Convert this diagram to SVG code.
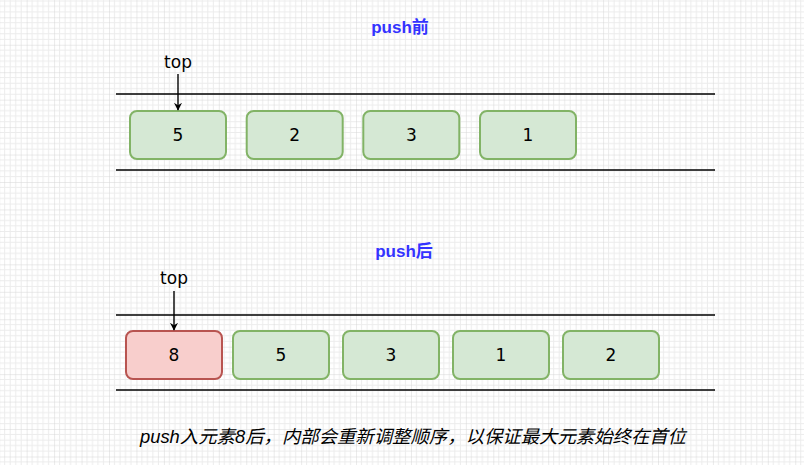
<svg xmlns="http://www.w3.org/2000/svg" width="804" height="465" viewBox="0 0 804 465">
<style>
.green{fill:#d5e8d4;stroke:#82b366;stroke-width:2}
.red{fill:#f8cecc;stroke:#b85450;stroke-width:2}
.num{font-family:"Comic Sans MS","DejaVu Sans","Liberation Sans",sans-serif;font-size:17px;fill:#000;text-anchor:middle;dominant-baseline:central}
.title{font-family:"Liberation Sans","Noto Sans CJK SC",sans-serif;font-size:17px;font-weight:bold;fill:#3333ff;text-anchor:middle;dominant-baseline:central}
.rail{stroke:#000;stroke-width:1.6;fill:none}
.conn{stroke:#000;stroke-width:1.4;fill:none}
</style>
<defs>
<pattern id="grid" patternUnits="userSpaceOnUse" x="26.65" y="17.3" width="27.45" height="27.45">
<path d="M5.49 0V27.45M10.98 0V27.45M16.47 0V27.45M21.96 0V27.45M0 5.49H27.45M0 10.98H27.45M0 16.47H27.45M0 21.96H27.45" stroke="#ececec" stroke-width="1" fill="none"/>
<path d="M0 0V27.45M0 0H27.45" stroke="#d6d6d6" stroke-width="1" fill="none"/>
</pattern>
<marker id="arr" viewBox="0 0 10 10" refX="9" refY="5" markerWidth="8" markerHeight="8" orient="auto" markerUnits="userSpaceOnUse">
<path d="M0 0L10 5L0 10L3 5Z" fill="#000"/>
</marker>
</defs>
<rect width="804" height="465" fill="#fff"/>
<rect width="804" height="465" fill="url(#grid)"/>

<g id="rails">
<line class="rail" x1="116" y1="94" x2="715" y2="94"/>
<line class="rail" x1="116" y1="170" x2="715" y2="170"/>
<line class="rail" x1="116" y1="315" x2="715" y2="315"/>
<line class="rail" x1="116" y1="390" x2="715" y2="390"/>
</g>

<text id="title1" class="title" x="400" y="27">push前</text>
<text id="title2" class="title" x="404" y="251">push后</text>

<g id="top1"><text class="num" x="178" y="62">top</text></g>
<g id="top2"><text class="num" x="174" y="278">top</text></g>

<g id="r1n5"><rect class="green" x="130" y="111" width="96" height="48" rx="7"/><text class="num" x="178" y="135">5</text></g>
<g id="r1n2"><rect class="green" x="246.7" y="111" width="96" height="48" rx="7"/><text class="num" x="294.7" y="135">2</text></g>
<g id="r1n3"><rect class="green" x="363.3" y="111" width="96" height="48" rx="7"/><text class="num" x="411.3" y="135">3</text></g>
<g id="r1n1"><rect class="green" x="480" y="111" width="96" height="48" rx="7"/><text class="num" x="528" y="135">1</text></g>

<g id="r2n8"><rect class="red" x="126" y="331" width="96" height="48" rx="7"/><text class="num" x="174" y="355">8</text></g>
<g id="r2n5"><rect class="green" x="233" y="331" width="96" height="48" rx="7"/><text class="num" x="281" y="355">5</text></g>
<g id="r2n3"><rect class="green" x="343" y="331" width="96" height="48" rx="7"/><text class="num" x="391" y="355">3</text></g>
<g id="r2n1"><rect class="green" x="453" y="331" width="96" height="48" rx="7"/><text class="num" x="501" y="355">1</text></g>
<g id="r2n2"><rect class="green" x="563" y="331" width="96" height="48" rx="7"/><text class="num" x="611" y="355">2</text></g>

<g id="connectors">
<line class="conn" x1="178" y1="74" x2="178" y2="110" marker-end="url(#arr)"/>
<line class="conn" x1="174" y1="291" x2="174" y2="330" marker-end="url(#arr)"/>
</g>

<text id="note" x="140" y="437" textLength="546" lengthAdjust="spacingAndGlyphs" font-family="Liberation Sans,Noto Sans CJK SC,sans-serif" font-size="18" font-style="italic" dominant-baseline="central" fill="#000">push入元素8后，内部会重新调整顺序，以保证最大元素始终在首位</text>
</svg>
